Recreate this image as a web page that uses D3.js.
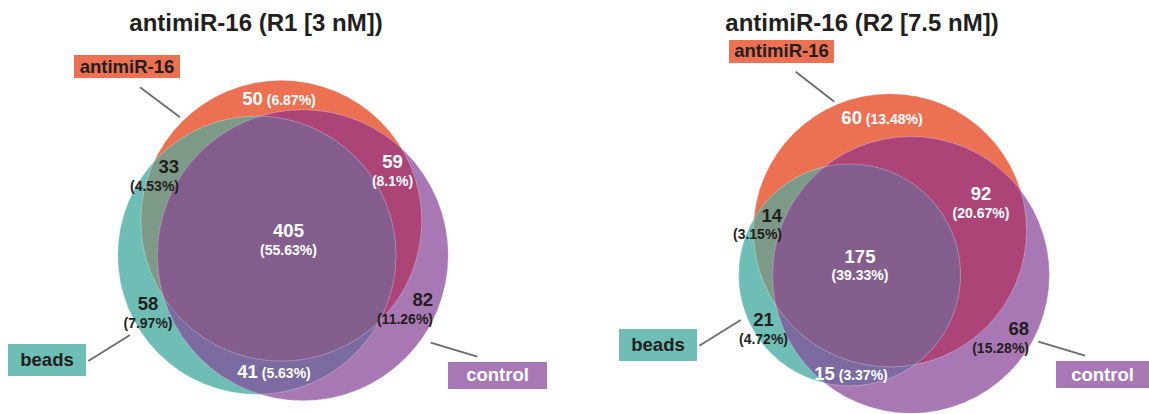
<!DOCTYPE html>
<html>
<head>
<meta charset="utf-8">
<script src="https://cdn.jsdelivr.net/npm/d3@7"></script>
<style>
  body { margin: 0; background: #fff; }
  svg { display: block; }
  text { font-family: "Liberation Sans", Arial, sans-serif; font-weight: bold; }
</style>
</head>
<body>
<svg id="chart" width="1149" height="414"></svg>
<script>
// sets: A = antimiR-16, B = beads, C = control
const setNames = ['antimiR-16', 'beads', 'control'];
const titles = ['antimiR-16 (R1 [3 nM])', 'antimiR-16 (R2 [7.5 nM])'];
// region order: A only, B only, C only, A&B, A&C, B&C, A&B&C
const regionKeys = ['A', 'B', 'C', 'AB', 'AC', 'BC', 'ABC'];
const countsR1 = [50, 58, 82, 33, 59, 41, 405];
const countsR2 = [60, 21, 68, 14, 92, 15, 175];

const colors = {
  A: '#EC7153', B: '#6FBEB6', C: '#A878B4',
  AB: '#7C9A87', AC: '#AC4478', BC: '#7B6BA0', ABC: '#845F8E'
};
const dark = '#231F20';

// panel layout (pixels per sqrt(count), where the diagram's box is centred)
const panels = [
  {
    counts: countsR1, title: titles[0], titleX: 256, k: 6.005, cx: 283, cy: 240.5,
    labels: {
      A: { x: 279, y: 105, inline: true, fill: '#fff' },
      B: { x: 148, y: 310, anchor: 'middle', fill: dark },
      C: { x: 433, y: 306, anchor: 'end', fill: dark },
      AB: { x: 179, y: 173, anchor: 'end', fill: dark },
      AC: { x: 392.5, y: 168, anchor: 'middle', fill: '#fff' },
      BC: { x: 274, y: 378, inline: true, fill: '#fff' },
      ABC: { x: 288.5, y: 237, anchor: 'middle', fill: '#fff' }
    },
    boxes: [
      { set: 0, x: 74, y: 55, w: 106, h: 23, ty: 72.5, fill: colors.A, text: dark, line: [140, 87.3, 180, 117.3] },
      { set: 1, x: 8, y: 344, w: 78, h: 32, ty: 366, fill: colors.B, text: dark, line: [88.3, 361, 130, 335] },
      { set: 2, x: 448, y: 362, w: 99, h: 27, ty: 381, fill: colors.C, text: '#fff', line: [430.7, 342.7, 477.3, 356.7] }
    ]
  },
  {
    counts: countsR2, title: titles[1], titleX: 862, k: 7.40, cx: 894, cy: 253.5,
    labels: {
      A: { x: 882, y: 124, inline: true, fill: '#fff' },
      B: { x: 763.5, y: 326, anchor: 'middle', fill: dark },
      C: { x: 1029, y: 335, anchor: 'end', fill: dark },
      AB: { x: 782, y: 221.7, anchor: 'end', fill: dark },
      AC: { x: 981, y: 200, anchor: 'middle', fill: '#fff' },
      BC: { x: 851, y: 380, inline: true, fill: '#fff' },
      ABC: { x: 860, y: 262.7, anchor: 'middle', fill: '#fff' }
    },
    boxes: [
      { set: 0, x: 729, y: 40, w: 105, h: 23, ty: 57, fill: colors.A, text: dark, line: [795.7, 71.7, 834.3, 101.7] },
      { set: 1, x: 619, y: 329, w: 78, h: 32, ty: 351, fill: colors.B, text: dark, line: [699.3, 345.7, 740.7, 320] },
      { set: 2, x: 1056, y: 361, w: 100, h: 27, ty: 380.5, fill: colors.C, text: '#fff', line: [1038.3, 341.7, 1085, 355.7] }
    ]
  }
];

const pctFormat = d3.format('.2~f');

function lensArea(r1, r2, d) {
  if (d >= r1 + r2) return 0;
  if (d <= Math.abs(r1 - r2)) return Math.PI * Math.min(r1, r2) ** 2;
  const a1 = r1 * r1 * Math.acos((d * d + r1 * r1 - r2 * r2) / (2 * d * r1));
  const a2 = r2 * r2 * Math.acos((d * d + r2 * r2 - r1 * r1) / (2 * d * r2));
  const t = 0.5 * Math.sqrt((-d + r1 + r2) * (d + r1 - r2) * (d - r1 + r2) * (d + r1 + r2));
  return a1 + a2 - t;
}

function distanceFor(r1, r2, area) {
  let lo = Math.abs(r1 - r2), hi = r1 + r2;
  for (let i = 0; i < 60; i++) {
    const mid = (lo + hi) / 2;
    if (lensArea(r1, r2, mid) > area) lo = mid; else hi = mid;
  }
  return (lo + hi) / 2;
}

const svg = d3.select('#chart');

panels.forEach((p, pi) => {
  const c = {};
  regionKeys.forEach((key, i) => { c[key] = p.counts[i]; });
  const total = d3.sum(p.counts);
  const sizes = {
    A: c.A + c.AB + c.AC + c.ABC,
    B: c.B + c.AB + c.BC + c.ABC,
    C: c.C + c.AC + c.BC + c.ABC
  };
  const r = d3.scaleSqrt().domain([0, 1]).range([0, p.k]);
  const unit = Math.PI * p.k * p.k;
  const R = { A: r(sizes.A), B: r(sizes.B), C: r(sizes.C) };
  const dAB = distanceFor(R.A, R.B, unit * (c.AB + c.ABC));
  const dAC = distanceFor(R.A, R.C, unit * (c.AC + c.ABC));
  const dBC = distanceFor(R.B, R.C, unit * (c.BC + c.ABC));

  const pos = { B: [0, 0], C: [dBC, 0] };
  const ax = (dAB * dAB - dAC * dAC + dBC * dBC) / (2 * dBC);
  pos.A = [ax, -Math.sqrt(Math.max(0, dAB * dAB - ax * ax))];

  const keys = ['A', 'B', 'C'];
  const x0 = d3.min(keys, s => pos[s][0] - R[s]), x1 = d3.max(keys, s => pos[s][0] + R[s]);
  const y0 = d3.min(keys, s => pos[s][1] - R[s]), y1 = d3.max(keys, s => pos[s][1] + R[s]);
  const dx = p.cx - (x0 + x1) / 2, dy = p.cy - (y0 + y1) / 2;
  const circ = {};
  keys.forEach(s => { circ[s] = { x: pos[s][0] + dx, y: pos[s][1] + dy, r: R[s] }; });

  const defs = svg.append('defs');
  keys.forEach(s => {
    defs.append('clipPath').attr('id', `clip${pi}${s}`)
      .append('circle').attr('cx', circ[s].x).attr('cy', circ[s].y).attr('r', circ[s].r);
  });

  const g = svg.append('g');
  const addCircle = (parent, s, fill, clip) => {
    const el = parent.append('circle')
      .attr('cx', circ[s].x).attr('cy', circ[s].y).attr('r', circ[s].r)
      .attr('fill', fill);
    if (clip) el.attr('clip-path', `url(#clip${pi}${clip})`);
    return el;
  };
  addCircle(g, 'A', colors.A);
  addCircle(g, 'B', colors.B);
  addCircle(g, 'C', colors.C);
  addCircle(g, 'B', colors.AB, 'A');
  addCircle(g, 'C', colors.AC, 'A');
  addCircle(g, 'C', colors.BC, 'B');
  const tri = g.append('g').attr('clip-path', `url(#clip${pi}A)`);
  addCircle(tri, 'C', colors.ABC, 'B');
  keys.forEach(s => {
    g.append('circle')
      .attr('cx', circ[s].x).attr('cy', circ[s].y).attr('r', circ[s].r)
      .attr('fill', 'none').attr('stroke', '#fff').attr('stroke-opacity', 0.35).attr('stroke-width', 0.8);
  });

  // title
  svg.append('text')
    .attr('x', p.titleX).attr('y', 31)
    .attr('text-anchor', 'middle').attr('font-size', 24).attr('fill', dark)
    .text(p.title);

  // region labels
  regionKeys.forEach((key, i) => {
    const L = p.labels[key];
    const pct = `(${pctFormat(c[key] / total * 100)}%)`;
    if (L.inline) {
      const t = svg.append('text')
        .attr('x', L.x).attr('y', L.y).attr('text-anchor', 'middle').attr('fill', L.fill);
      t.append('tspan').attr('font-size', 18.5).text(c[key]);
      t.append('tspan').attr('font-size', 14).text(' ' + pct);
    } else {
      svg.append('text')
        .attr('x', L.x).attr('y', L.y).attr('text-anchor', L.anchor)
        .attr('font-size', 18.5).attr('fill', L.fill).text(c[key]);
      svg.append('text')
        .attr('x', L.x).attr('y', L.y + 17.5).attr('text-anchor', L.anchor)
        .attr('font-size', 14).attr('fill', L.fill).text(pct);
    }
  });

  // set name boxes with leader lines
  p.boxes.forEach(b => {
    svg.append('line')
      .attr('x1', b.line[0]).attr('y1', b.line[1]).attr('x2', b.line[2]).attr('y2', b.line[3])
      .attr('stroke', '#6b6b6b').attr('stroke-width', 1.8);
    svg.append('rect')
      .attr('x', b.x).attr('y', b.y).attr('width', b.w).attr('height', b.h)
      .attr('fill', b.fill);
    svg.append('text')
      .attr('x', b.x + Math.min(b.w, 1149 - b.x) / 2).attr('y', b.ty)
      .attr('text-anchor', 'middle').attr('font-size', 18.5).attr('fill', b.text)
      .text(setNames[b.set]);
  });
});
</script>
</body>
